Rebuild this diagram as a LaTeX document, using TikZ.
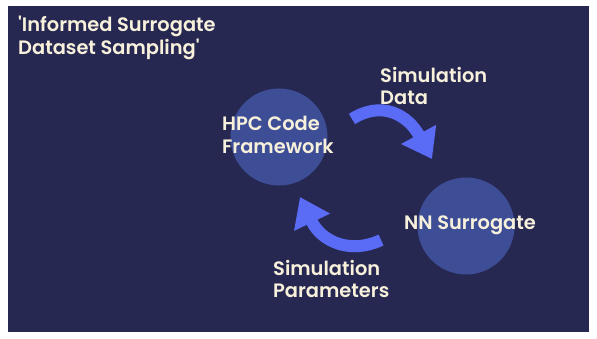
\documentclass[tikz,border=0pt]{standalone}
\usepackage{fontspec}
\setmainfont{Poppins}[BoldFont={Poppins SemiBold}]
\usetikzlibrary{arrows.meta}
\definecolor{navy}{HTML}{272852}
\definecolor{circ}{HTML}{3E4E96}
\definecolor{arr}{HTML}{5A6CF6}
\definecolor{cream}{HTML}{F7F1DC}
\tikzset{
  lbl/.style={text=cream, font=\fontsize{19.4}{22.5}\selectfont\bfseries, align=left, anchor=west, inner sep=0pt},
  bubble/.style={circle, fill=circ, minimum size=97pt, inner sep=0pt},
  bend arrow/.style={draw=arr, line width=12pt, -{Triangle[length=28pt,width=38pt]}}
}
\begin{document}
\begin{tikzpicture}[x=1pt,y=-1pt]
\useasboundingbox (0,0) rectangle (597,339);
\fill[white] (0,0) rectangle (597,339);
\fill[navy] (8,6) rectangle (589,332);
\node[bubble] (hpc) at (279,137) {};
\node[bubble] (nn) at (466,226) {};
\node[lbl] (title) at (18,38) {\textquotesingle Informed Surrogate\\Dataset Sampling\textquotesingle};
\node[lbl] (hpct) at (222,135) {HPC Code\\Framework};
\node[lbl] (nnt) at (404,225) {NN Surrogate};
\node[lbl] (simd) at (380,86) {Simulation\\Data};
\node[lbl] (simp) at (273,279) {Simulation\\Parameters};
\coordinate (a1s) at (352,119);
\coordinate (a1e) at (432,159);
\coordinate (a2s) at (381,240);
\coordinate (a2e) at (300,197);
\draw[bend arrow] (a1s) .. controls (382,100) and (408,115) .. (a1e);
\draw[bend arrow] (a2s) .. controls (352,254) and (322,243) .. (a2e);
\end{tikzpicture}
\end{document}
